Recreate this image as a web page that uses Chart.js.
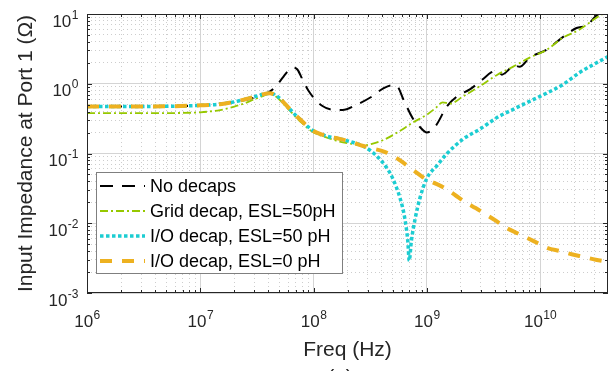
<!DOCTYPE html>
<html>
<head>
<meta charset="utf-8">
<script src="https://cdn.jsdelivr.net/npm/chart.js@4.4.0/dist/chart.umd.min.js"></script>
<style>
  html, body { margin: 0; padding: 0; background: #fff; }
  canvas { display: block; }
</style>
</head>
<body>
<canvas id="chart" width="613" height="371"></canvas>
<script>
// axis limits and decade labels
const xMin = 1e6, xMax = 3.98e10
const yMin = 1e-3, yMax = 10
const xDecades = [6, 7, 8, 9, 10]
const yDecades = [-3, -2, -1, 0, 1]

const seriesNames = ['No decaps', 'Grid decap, ESL=50pH', 'I/O decap, ESL=50 pH', 'I/O decap, ESL=0 pH']

// No decaps
const noDecapFreq = [1e6, 5e6, 1e7, 2e7, 3e7, 4e7, 4.6e7, 5.3e7, 6e7, 6.6e7, 7.2e7, 8e7, 9e7, 1.05e8, 1.2e8, 1.4e8,
  1.8e8, 2.4e8, 3.2e8, 4.1e8, 4.9e8, 5.5e8, 6.2e8, 7.6e8, 8.7e8, 1.0e9, 1.2e9, 1.5e9, 1.85e9, 2.4e9, 3.1e9,
  3.7e9, 4.2e9, 4.6e9, 5.3e9, 5.8e9, 6.6e9, 8.1e9, 1.15e10, 1.6e10, 2.1e10, 2.6e10, 3.2e10, 3.98e10]
const noDecapZ = [0.47, 0.475, 0.49, 0.55, 0.63, 0.75, 0.9, 1.2, 1.55, 1.7, 1.6, 1.15, 0.8, 0.58, 0.48, 0.43,
  0.42, 0.5, 0.64, 0.85, 0.95, 0.91, 0.6, 0.31, 0.24, 0.2, 0.25, 0.47, 0.66, 0.83, 1.15,
  1.45, 1.55, 1.35, 1.6, 1.87, 1.75, 2.37, 3.1, 4.7, 6.3, 6.9, 9.7, 10.5]

// Grid decap, ESL=50pH
const gridFreq = [1e6, 5e6, 1e7, 1.5e7, 2e7, 2.5e7, 3e7, 3.5e7, 4.1e7, 4.8e7, 5.5e7, 6.2e7, 7e7, 7.6e7, 8.5e7,
  1e8, 1.3e8, 1.7e8, 2.2e8, 2.7e8, 3.4e8, 4.1e8, 5.5e8, 7.6e8, 1e9, 1.2e9, 1.38e9, 1.6e9, 2.1e9, 2.9e9, 4.2e9,
  5.8e9, 8.1e9, 1.15e10, 1.6e10, 2.2e10, 3.2e10, 3.98e10]
const gridZ = [0.38, 0.38, 0.39, 0.42, 0.47, 0.53, 0.6, 0.66, 0.72, 0.63, 0.5, 0.41, 0.33, 0.29, 0.245,
  0.2, 0.17, 0.148, 0.137, 0.13, 0.14, 0.155, 0.2, 0.28, 0.36, 0.45, 0.54, 0.52, 0.66, 0.91, 1.35,
  1.76, 2.37, 3.08, 4.6, 5.9, 9.0, 11]

// I/O decap, ESL=50 pH
const io50Freq = [1e6, 2e6, 5e6, 1e7, 1.5e7, 2e7, 2.5e7, 3e7, 3.5e7, 4.1e7, 4.8e7, 5.5e7, 6.2e7, 7e7, 7.6e7, 8.5e7,
  1e8, 1.3e8, 1.7e8, 2.2e8, 2.7e8, 3.2e8, 3.9e8, 4.5e8, 5.0e8, 5.8e8, 6.4e8, 6.8e8, 7.0e8, 7.3e8, 7.9e8,
  8.7e8, 1.0e9, 1.23e9, 1.5e9, 2.1e9, 2.95e9, 4.2e9, 5.8e9, 8.1e9, 1e10, 1.6e10, 2.24e10, 3.16e10, 3.98e10]
const io50Z = [0.47, 0.47, 0.475, 0.49, 0.51, 0.55, 0.6, 0.65, 0.7, 0.73, 0.66, 0.53, 0.43, 0.35, 0.31, 0.26,
  0.21, 0.178, 0.162, 0.145, 0.129, 0.109, 0.081, 0.06, 0.044, 0.023, 0.0117, 0.0055, 0.0029, 0.0055, 0.0117,
  0.023, 0.044, 0.067, 0.099, 0.162, 0.224, 0.33, 0.43, 0.56, 0.66, 0.98, 1.45, 2.0, 2.45]

// I/O decap, ESL=0 pH
const io0Freq = [1e6, 2e6, 5e6, 1e7, 1.5e7, 2e7, 2.5e7, 3e7, 3.5e7, 4.1e7, 4.8e7, 5.5e7, 6.2e7, 7e7, 7.6e7, 8.5e7,
  1e8, 1.3e8, 1.7e8, 2.2e8, 2.7e8, 3.4e8, 4.3e8, 5.3e8, 6.4e8, 7.8e8, 9.6e8, 1.2e9, 1.44e9, 1.8e9, 2.2e9,
  2.7e9, 3.3e9, 4.1e9, 5.1e9, 6.3e9, 7.8e9, 9.5e9, 1.17e10, 1.5e10, 1.9e10, 2.4e10, 3.1e10, 3.98e10]
const io0Z = [0.47, 0.47, 0.475, 0.49, 0.51, 0.55, 0.6, 0.65, 0.7, 0.73, 0.66, 0.53, 0.43, 0.35, 0.31, 0.26,
  0.21, 0.178, 0.162, 0.145, 0.129, 0.117, 0.105, 0.088, 0.071, 0.056, 0.044, 0.037, 0.032, 0.025, 0.02,
  0.0165, 0.0135, 0.0108, 0.0085, 0.0072, 0.0061, 0.0052, 0.0044, 0.004, 0.0036, 0.0033, 0.003, 0.0028]

const textColor = '#262626'
const tickFont = "17px 'Liberation Sans', Arial, sans-serif"
const expFont = "12px 'Liberation Sans', Arial, sans-serif"
const titleFont = "21px 'Liberation Sans', Arial, sans-serif"
const legendFont = "18px 'Liberation Sans', Arial, sans-serif"

function points(xs, ys) {
  return xs.map((v, i) => ({x: v, y: ys[i]}))
}

// every 1..9 x 10^n inside the range, decades flagged as major
function logTicks(lo, hi) {
  var out = []
  for (var e = Math.floor(Math.log10(lo)); e <= Math.ceil(Math.log10(hi)); e++) {
    for (var m = 1; m <= 9; m++) {
      var v = m * Math.pow(10, e)
      if (v >= lo * 0.999 && v <= hi * 1.001) out.push({value: v, major: m === 1})
    }
  }
  return out
}

function line(label, data, color, width, dash, order) {
  return {
    label: label,
    data: data,
    borderColor: color,
    backgroundColor: color,
    borderWidth: width,
    borderDash: dash,
    borderCapStyle: 'butt',
    pointRadius: 0,
    fill: false,
    cubicInterpolationMode: 'monotone',
    order: order
  }
}

const gridOpts = {
  drawTicks: false,
  lineWidth: 1,
  color: c => (c.tick && c.tick.major) ? '#d4d4d4' : '#cdcdcd'
}
const borderOpts = {
  display: false,
  dash: c => (c.tick && c.tick.major) ? [] : [1, 3]
}

function drawPow(ctx, exp, x, y, align) {
  // "10" with a raised exponent; x is the centre or the right edge
  ctx.font = tickFont
  var w1 = ctx.measureText('10').width
  ctx.font = expFont
  var w2 = ctx.measureText(exp).width
  var left = align === 'right' ? x - w1 - w2 : x - (w1 + w2) / 2
  ctx.textAlign = 'left'
  ctx.textBaseline = 'alphabetic'
  ctx.font = tickFont
  ctx.fillText('10', left, y)
  ctx.font = expFont
  ctx.fillText(exp, left + w1 + 0.5, y - 8)
}

const framePlugin = {
  id: 'frame',
  afterDraw(chart) {
    const ctx = chart.ctx
    const a = chart.chartArea
    const xs = chart.scales.x
    const ys = chart.scales.y
    ctx.save()

    // inward ticks on all four sides
    ctx.strokeStyle = textColor
    ctx.lineWidth = 1
    ctx.setLineDash([])
    ctx.beginPath()
    xs.ticks.forEach(t => {
      const px = Math.round(xs.getPixelForValue(t.value)) + 0.5
      const len = t.major ? 5 : 3
      ctx.moveTo(px, a.bottom); ctx.lineTo(px, a.bottom - len)
      ctx.moveTo(px, a.top); ctx.lineTo(px, a.top + len)
    })
    ys.ticks.forEach(t => {
      const py = Math.round(ys.getPixelForValue(t.value)) + 0.5
      const len = t.major ? 5 : 3
      ctx.moveTo(a.left, py); ctx.lineTo(a.left + len, py)
      ctx.moveTo(a.right, py); ctx.lineTo(a.right - len, py)
    })
    ctx.stroke()
    ctx.strokeRect(Math.round(a.left) + 0.5, Math.round(a.top) + 0.5,
      Math.round(a.right - a.left) - 1, Math.round(a.bottom - a.top) - 1)

    // tick labels
    ctx.fillStyle = textColor
    xDecades.forEach(e => {
      drawPow(ctx, String(e), xs.getPixelForValue(Math.pow(10, e)), a.bottom + 34, 'center')
    })
    yDecades.forEach(e => {
      drawPow(ctx, String(e), a.left - 9, ys.getPixelForValue(Math.pow(10, e)) + 12.5, 'right')
    })

    // axis titles
    ctx.font = titleFont
    ctx.textAlign = 'center'
    ctx.textBaseline = 'alphabetic'
    ctx.fillText('Freq (Hz)', (a.left + a.right) / 2, 356)
    ctx.fillText('(a)', 340, 384)
    ctx.save()
    ctx.translate(32, (a.top + a.bottom) / 2)
    ctx.rotate(-Math.PI / 2)
    ctx.fillText('Input Impedance at Port 1 (\u03A9)', 0, 0)
    ctx.restore()

    // legend box
    const lx = 96, ly = 172, lw = 246, lh = 101
    ctx.fillStyle = '#ffffff'
    ctx.fillRect(lx, ly, lw, lh)
    ctx.strokeStyle = '#7f7f7f'
    ctx.lineWidth = 1
    ctx.strokeRect(lx + 0.5, ly + 0.5, lw, lh)
    chart.data.datasets.forEach((ds, i) => {
      const cy = 186 + i * 25
      ctx.strokeStyle = ds.borderColor
      ctx.lineWidth = ds.borderWidth
      ctx.setLineDash(ds.borderDash)
      ctx.beginPath()
      ctx.moveTo(100, cy)
      ctx.lineTo(145, cy)
      ctx.stroke()
      ctx.setLineDash([])
      ctx.fillStyle = '#000'
      ctx.font = legendFont
      ctx.textAlign = 'left'
      ctx.textBaseline = 'middle'
      ctx.fillText(ds.label, 150, cy + 1)
    })
    ctx.restore()
  }
}

new Chart(document.getElementById('chart'), {
  type: 'line',
  data: {
    datasets: [
      line(seriesNames[0], points(noDecapFreq, noDecapZ), '#000000', 2, [13, 9], 4),
      line(seriesNames[1], points(gridFreq, gridZ), '#96c800', 1.8, [8, 3, 2, 3], 3),
      line(seriesNames[2], points(io50Freq, io50Z), '#1ccdd2', 3.5, [3.5, 2.5], 2),
      line(seriesNames[3], points(io0Freq, io0Z), '#edb120', 4, [12, 10], 1)
    ]
  },
  options: {
    responsive: false,
    animation: false,
    events: [],
    layout: {padding: {left: 87, right: 5, top: 14, bottom: 78}},
    plugins: {
      legend: {display: false},
      tooltip: {enabled: false}
    },
    scales: {
      x: {
        type: 'logarithmic',
        min: xMin,
        max: xMax,
        ticks: {display: false},
        grid: gridOpts,
        border: borderOpts,
        afterBuildTicks: s => { s.ticks = logTicks(xMin, xMax) }
      },
      y: {
        type: 'logarithmic',
        min: yMin,
        max: yMax,
        ticks: {display: false},
        grid: gridOpts,
        border: borderOpts,
        afterBuildTicks: s => { s.ticks = logTicks(yMin, yMax) }
      }
    }
  },
  plugins: [framePlugin]
})
</script>
</body>
</html>
